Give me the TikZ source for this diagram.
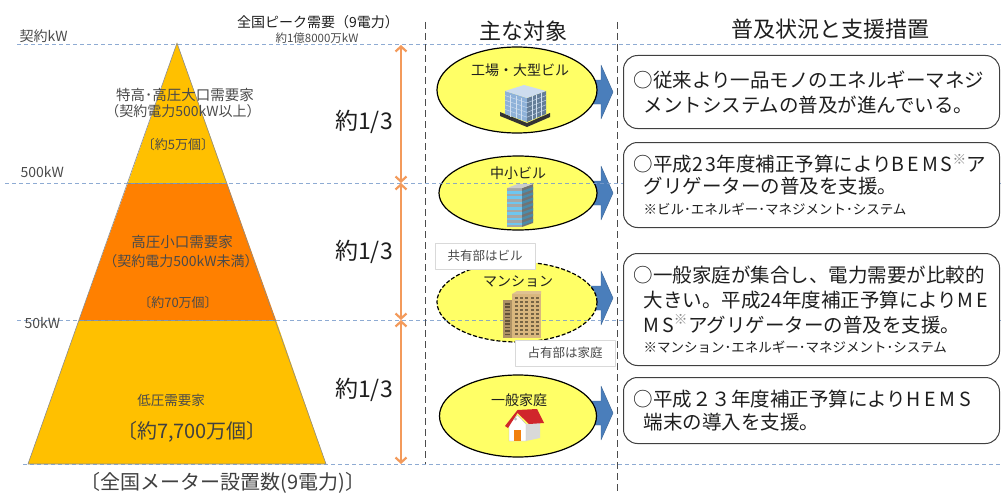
\documentclass[tikz,border=0pt]{standalone}
\usepackage{fontspec}
\setmainfont{Noto Sans CJK JP}
\usetikzlibrary{arrows.meta,shapes.geometric}
\definecolor{levelblue}{HTML}{7A9CCB}
\definecolor{peakgold}{HTML}{FFC000}
\definecolor{midorange}{HTML}{FF8000}
\definecolor{shareorange}{HTML}{F39A5B}
\definecolor{targetyellow}{HTML}{FFFF66}
\definecolor{pointblue}{HTML}{4A7EBB}
\definecolor{softtext}{HTML}{4A4A4A}
\definecolor{darktext}{HTML}{1E1E1E}
\definecolor{glassblue}{HTML}{8FB2D9}
\definecolor{stripeblue}{HTML}{6EC6F0}
\definecolor{flattan}{HTML}{D9B77E}
\definecolor{roofred}{HTML}{D0262B}
\newcommand{\pxsize}[2]{\fontsize{#1}{#2}\selectfont}
\newcommand{\refmark}{{\color{black!45}\textsuperscript{※}}}
\tikzset{
  level/.style={levelblue, line width=1pt, dash pattern=on 4pt off 3pt, opacity=0.85},
  colsep/.style={black!70, line width=1pt, dash pattern=on 7pt off 4pt},
  share/.style={{Straight Barb[length=5pt,width=11pt]}-{Straight Barb[length=5pt,width=11pt]}, shareorange, line width=2.2pt},
  layer/.style={draw=black!45, line width=0.6pt},
  target/.style={ellipse, draw=black, line width=1.2pt, fill=targetyellow, inner sep=0pt},
  measure/.style={draw=black!75, line width=1pt, fill=white, rounded corners=14pt, anchor=north west,
    text width=356pt, inner xsep=10pt, inner ysep=0pt, align=left, text=darktext, font=\pxsize{19.5}{25}},
  note/.style={draw=black!15, fill=white, text=softtext, font=\pxsize{12.5}{14}, minimum width=100pt, minimum height=26pt, inner sep=0pt},
  tier/.style={text=softtext, font=\pxsize{14.5}{17}},
  ratio/.style={text=darktext, font=\pxsize{23}{26}},
  head/.style={text=darktext, font=\pxsize{22}{26}},
  kind/.style={text=darktext, font=\pxsize{14}{16}},
}
\begin{document}
\begin{tikzpicture}[x=1pt,y=-1pt,line join=round]
\useasboundingbox (0,0) rectangle (1001,495);

% pyramid of contract classes
\fill[peakgold] (177,43) -- (227,183) -- (128,183) -- cycle;
\fill[midorange] (128,183) -- (227,183) -- (276,320) -- (79,320) -- cycle;
\fill[peakgold] (79,320) -- (276,320) -- (326,464) -- (28,464) -- cycle;
\draw[layer] (177,43) -- (326,464) -- (28,464) -- cycle;
\draw[layer] (128,183) -- (227,183) (79,320) -- (276,320);

% block arrows towards the measures (shaft hidden by the ellipses)
\foreach \y in {92,193,298,413}
  \fill[pointblue, draw=pointblue!80!black, line width=0.4pt]
    (586,\y-12) -- (601,\y-12) -- (601,\y-27) -- (613,\y) -- (601,\y+27) -- (601,\y+12) -- (586,\y+12) -- cycle;

% target groups
\node[target, minimum width=160pt, minimum height=86pt] (factory) at (517,90) {};
\node[target, minimum width=158pt, minimum height=74pt] (office) at (518,193) {};
\node[target, minimum width=160pt, minimum height=80pt, dash pattern=on 4pt off 2pt] (flats) at (517,302) {};
\node[target, minimum width=157pt, minimum height=82pt] (home) at (518,416) {};

% contract levels
\coordinate (top) at (401,45);
\coordinate (mid1) at (401,183);
\coordinate (mid2) at (401,320);
\coordinate (base) at (401,464);
\draw[level] (17,45) -- (1001,45);
\draw[level] (5,183) -- (1001,183);
\draw[level] (17,320) -- (1001,320);
\draw[level] (23,464) -- (1001,464);

% column separators
\draw[colsep] (425,22) -- (425,464);
\draw[colsep] (617,22) -- (617,495);

% shares of the peak demand
\draw[share] (top) -- (mid1);
\draw[share] (mid1) -- (mid2);
\draw[share] (mid2) -- (base);
\node[ratio] (ratioA) at (364,122) {約1/3};
\node[ratio] (ratioB) at (364,252) {約1/3};
\node[ratio] (ratioC) at (364,390) {約1/3};

% level labels
\node[tier, anchor=west, font=\pxsize{14}{16}] (kwlabel) at (16,36) {契約kW};
\node[tier, anchor=west, font=\pxsize{14}{16}] (kw500) at (17,172) {500kW};
\node[tier, anchor=west, font=\pxsize{14}{16}] (kw50) at (21,323) {50kW};
\node[text=darktext, font=\pxsize{14}{16}] (peak) at (318,22) {全国ピーク需要（9電力）};
\node[tier, font=\pxsize{11.5}{13}] (peakvalue) at (317,38) {約1億8000万kW};

% tiers
\node[tier] (toptier) at (185,95) {特高･高圧大口需要家};
\node[tier, font=\pxsize{14}{16}] (toplimit) at (183,111) {（契約電力500kW以上）};
\node[tier, font=\pxsize{13}{15}] (topcount) at (178,145) {〔約5万個〕};
\node[tier] (midtier) at (182,242) {高圧小口需要家};
\node[tier, font=\pxsize{14}{16}] (midlimit) at (181,261) {（契約電力500kW未満）};
\node[tier, font=\pxsize{13}{15}] (midcount) at (178,303) {〔約70万個〕};
\node[tier, font=\pxsize{13.5}{15}] (lowtier) at (171,400) {低圧需要家};
\node[tier, font=\pxsize{20}{22}, text=darktext!85] (lowcount) at (192,432) {〔約7,700万個〕};
\node[text=darktext!85, font=\pxsize{20}{22}] (metercount) at (223,483) {〔全国メーター設置数(9電力)〕};

% column heads
\node[head] (targethead) at (523,31) {主な対象};
\node[head] (measurehead) at (830,29) {普及状況と支援措置};

% target names
\node[kind] (factorytext) at (520,70) {工場・大型ビル};
\node[kind] (officetext) at (518,173) {中小ビル};
\node[kind] (flatstext) at (518,282) {マンション};
\node[kind] (hometext) at (519,400) {一般家庭};

% glass office block
\fill[black!80] (500,116) -- (527,127) -- (550,117) -- (550,113) -- (527,123) -- (500,112) -- cycle;
\fill[glassblue] (505,91) -- (527,98) -- (527,122) -- (505,114) -- cycle;
\fill[glassblue!70!black] (527,98) -- (546,91) -- (546,114) -- (527,122) -- cycle;
\fill[glassblue!45] (505,91) -- (524,85) -- (546,91) -- (527,98) -- cycle;
\foreach \k in {1,...,4} {
  \draw[white!60!glassblue, line width=0.4pt] (505,91+4.6*\k) -- (527,98+4.8*\k) -- (546,91+4.6*\k);
}
\foreach \k in {1,2,3} {
  \draw[white!60!glassblue, line width=0.4pt] (505+5.5*\k,92.8+1.7*\k) -- (505+5.5*\k,114.8+1.8*\k);
  \draw[white!60!glassblue, line width=0.4pt] (527+4.75*\k,98-1.75*\k) -- (527+4.75*\k,122-2*\k);
}

% small office tower
\fill[black!35] (507,188) rectangle (522,227);
\fill[black!55] (522,188) -- (533,184) -- (533,223) -- (522,227) -- cycle;
\fill[black!20] (507,188) -- (518,184) -- (533,184) -- (522,188) -- cycle;
\foreach \k in {0,...,6} {
  \fill[stripeblue] (507,191+5.3*\k) rectangle (522,193.6+5.3*\k);
  \fill[stripeblue!70!black] (522,191+5.3*\k) -- (533,187+5.3*\k) -- (533,189.6+5.3*\k) -- (522,193.6+5.3*\k) -- cycle;
}

% apartment blocks
\fill[flattan!80!black] (503,300) rectangle (518,338);
\fill[flattan] (512,294) rectangle (541,338);
\fill[flattan!85!white] (512,294) -- (517,291) -- (541,291) -- (541,294) -- cycle;
\foreach \r in {0,...,9} {
  \foreach \c in {0,...,4}
    \fill[flattan!55!black] (515+5.2*\c,297+4*\r) rectangle (518+5.2*\c,299+4*\r);
  \fill[flattan!45!black] (505,303+3.4*\r) rectangle (510,304.6+3.4*\r);
}

% detached house
\fill[black!15] (526,424) -- (540,422) -- (540,438) -- (526,441) -- cycle;
\fill[white, draw=black!30, line width=0.3pt] (509,424) -- (517.5,415) -- (526,424) -- (526,441) -- (509,441) -- cycle;
\fill[roofred] (505,426) -- (517.5,410) -- (537,409) -- (544,423) -- (529,424) -- (517.5,413) -- (508,428) -- cycle;
\fill[orange!80!brown] (514,430) rectangle (521,441);
\fill[black!25] (515.5,419) circle (1.6pt);

% shared and private parts
\node[note, anchor=north west] (sharednote) at (435,243) {共有部はビル};
\node[note, anchor=north west] (privatenote) at (515,340) {占有部は家庭};

% measures
\node[measure, minimum height=73pt] (bigmeasure) at (623,55)
  {○従来より一品モノのエネルギーマネジ\\\hspace*{10pt}メントシステムの普及が進んでいる。};
\node[measure, minimum height=85pt] (officemeasure) at (623,142)
  {○平成2\kern3pt3年度補正予算によりB\kern3pt E\kern3pt M\kern3pt S\refmark ア\\[-3pt]
   \hspace*{10pt}グリゲーターの普及を支援。\\[-4pt]
   \hspace*{10pt}{\pxsize{13.5}{15}※ビル･エネルギー･マネジメント･システム}};
\node[measure, minimum height=112pt] (flatsmeasure) at (623,253)
  {○一般家庭が集合し、電力需要が比較的\\
   \hspace*{10pt}大きい。平成24年度補正予算によりM\kern3pt E\\
   \hspace*{10pt}M\kern3pt S\refmark アグリゲーターの普及を支援。\\[-5pt]
   \hspace*{10pt}{\pxsize{13.5}{15}※マンション･エネルギー･マネジメント･システム}};
\node[measure, minimum height=66pt] (homemeasure) at (623,377)
  {○平成２３年度補正予算によりH\kern4pt E\kern4pt M\kern4pt S\\[-2pt]\hspace*{10pt}端末の導入を支援。};
\end{tikzpicture}
\end{document}
